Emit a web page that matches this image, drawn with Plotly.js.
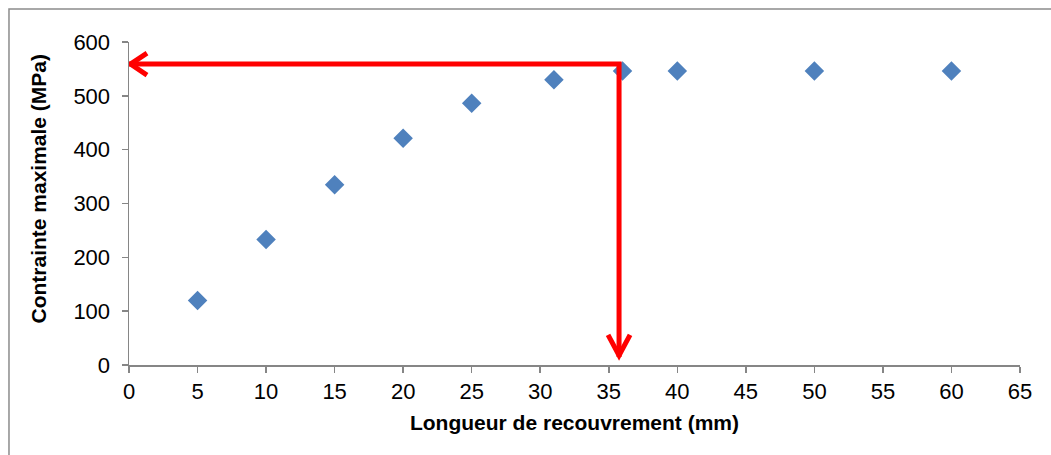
<!DOCTYPE html>
<html><head><meta charset="utf-8">
<script src="https://cdn.plot.ly/plotly-3.0.1.min.js"></script>
<style>html,body{margin:0;padding:0;background:#fff;}#chart{width:1051px;height:455px;}</style>
</head><body><div id="chart"></div>
<script>
// Data
const longueur = [5, 10, 15, 20, 25, 31, 36, 40, 50, 60];
const contrainte = [120, 233, 335, 421, 486, 530, 546, 546, 546, 546];
const xTicks = [0,5,10,15,20,25,30,35,40,45,50,55,60,65];
const yTicks = [0,100,200,300,400,500,600];
// Red arrow guide (optimal overlap length / max stress)
const guideX = [35.75];
const guideY = [559];
const guideYEnd = [15];

const FONT = 'Liberation Sans, Arial, sans-serif';
const RED = '#ff0000';

const traces = [{
  x: longueur, y: contrainte, type: 'scatter', mode: 'markers',
  marker: {symbol: 'diamond', size: 15, color: '#4F81BD'},
  hoverinfo: 'x+y', showlegend: false
}, {
  x: [0, guideX[0], guideX[0]], y: [guideY[0], guideY[0], guideYEnd[0]],
  type: 'scatter', mode: 'lines', line: {color: RED, width: 5},
  hoverinfo: 'skip', showlegend: false
}];

const shapes = [
  {type:'rect', xref:'paper', yref:'paper', x0:-0.1347, x1:1.2, y0:1.102, y1:-0.4,
   line:{color:'#8c8c8c', width:1.5}, fillcolor:'rgba(0,0,0,0)', layer:'below'},
  {type:'path', xref:'x', yref:'y', xsizemode:'pixel', ysizemode:'pixel',
   xanchor:0, yanchor:guideY[0], path:'M 18,11 L 1.5,0 L 18,-11',
   line:{color:RED, width:5}},
  {type:'path', xref:'x', yref:'y', xsizemode:'pixel', ysizemode:'pixel',
   xanchor:guideX[0], yanchor:guideYEnd[0], path:'M -11,22 L 0,1.5 L 11,22',
   line:{color:RED, width:5}}
];

const layout = {
  width: 1051, height: 455,
  margin: {l:129, r:31, t:42, b:90},
  paper_bgcolor:'#fff', plot_bgcolor:'#fff',
  font: {family: FONT, color:'#000', size: 22},
  xaxis: {
    range:[0,65], tickvals:xTicks, ticktext:xTicks.map(String),
    showgrid:false, zeroline:false, showline:true, linecolor:'#868686', linewidth:1.5,
    ticks:'outside', ticklen:6, tickcolor:'#868686', tickwidth:1.5,
    tickfont:{size:22, family:FONT},
    title:{text:'<b>Longueur de recouvrement (mm)</b>', font:{size:21, family:FONT}, standoff:12}
  },
  yaxis: {
    range:[0,600], tickvals:yTicks, ticktext:yTicks.map(String),
    showgrid:false, zeroline:false, showline:true, linecolor:'#868686', linewidth:1.5,
    ticks:'outside', ticklen:6, tickcolor:'#868686', tickwidth:1.5,
    ticklabelstandoff:7,
    tickfont:{size:22, family:FONT}
  },
  annotations: [{
    text:'<b>Contrainte maximale (MPa)</b>', textangle:-90,
    xref:'paper', yref:'paper', x:-0.1015, y:0.545, showarrow:false,
    xanchor:'center', yanchor:'middle', font:{size:21, family:FONT}
  }],
  shapes: shapes
};

Plotly.newPlot('chart', traces, layout, {displayModeBar:false, staticPlot:true});
</script></body></html>
